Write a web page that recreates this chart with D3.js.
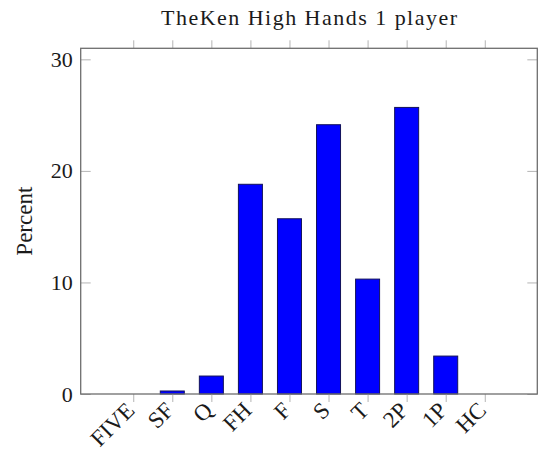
<!DOCTYPE html>
<html>
<head>
<meta charset="utf-8">
<script src="https://cdn.jsdelivr.net/npm/d3@7"></script>
<style>
  html, body { margin: 0; padding: 0; background: #fff; }
  svg { display: block; }
  text { font-family: "Liberation Serif", "DejaVu Serif", serif; fill: #1a1a1a; }
</style>
</head>
<body>
<svg id="chart" width="546" height="453"></svg>
<script>
const categories = ["FIVE", "SF", "Q", "FH", "F", "S", "T", "2P", "1P", "HC"];
const percentValues = [0.0, 0.27, 1.61, 18.8, 15.71, 24.14, 10.3, 25.69, 3.4, 0.0];
const yTickValues = [0, 10, 20, 30];
const chartTitle = "TheKen High Hands 1 player";
const yAxisLabel = "Percent";

const svg = d3.select("#chart");
const frame = { left: 80.7, right: 537.3, top: 48.3, bottom: 394 };

const x = d3.scaleLinear()
  .domain([-1.345, categories.length - 1 + 1.345])
  .range([frame.left, frame.right]);
const y = d3.scaleLinear()
  .domain([0, 30.99])
  .range([frame.bottom, frame.top]);

const barWidth = 24;

// bars
svg.append("g")
  .selectAll("rect")
  .data(percentValues)
  .join("rect")
  .attr("x", (d, i) => x(i) - barWidth / 2)
  .attr("y", d => y(d))
  .attr("width", barWidth)
  .attr("height", d => y(0) - y(d))
  .attr("fill", "#0000ff")
  .attr("stroke", "#12125a")
  .attr("stroke-width", 1);

const tickColor = "#b4b4b4";
const idx = categories.map((c, i) => i);

// bottom x axis (outer ticks)
const xAxisBottom = d3.axisBottom(x).tickValues(idx).tickSize(8).tickFormat("");
const gxb = svg.append("g").attr("transform", `translate(0,${frame.bottom})`).call(xAxisBottom);
gxb.select(".domain").remove();
gxb.selectAll(".tick line").attr("stroke", tickColor).attr("stroke-width", 1);

// top x axis (outer ticks)
const xAxisTop = d3.axisTop(x).tickValues(idx).tickSize(8).tickFormat("");
const gxt = svg.append("g").attr("transform", `translate(0,${frame.top})`).call(xAxisTop);
gxt.select(".domain").remove();
gxt.selectAll(".tick line").attr("stroke", tickColor).attr("stroke-width", 1);

// x tick labels (rotated)
svg.append("g")
  .selectAll("text")
  .data(categories)
  .join("text")
  .attr("transform", (d, i) => `translate(${x(i) - 9},${frame.bottom + 6}) rotate(-45)`)
  .attr("text-anchor", "end")
  .attr("dy", "0.72em")
  .style("font-size", "23px")
  .text(d => d);

// left y axis (inner ticks)
const yAxisLeft = d3.axisLeft(y).tickValues(yTickValues).tickSize(-10).tickPadding(8).tickFormat(d3.format("d"));
const gyl = svg.append("g").attr("transform", `translate(${frame.left},0)`).call(yAxisLeft);
gyl.select(".domain").remove();
gyl.selectAll(".tick line").attr("stroke", tickColor).attr("stroke-width", 1);
gyl.selectAll(".tick text")
  .style("font-size", "22px")
  .style("font-family", "\"Liberation Serif\", serif")
  .attr("fill", "#1a1a1a");

// right y axis (inner ticks)
const yAxisRight = d3.axisRight(y).tickValues(yTickValues).tickSize(-10).tickFormat("");
const gyr = svg.append("g").attr("transform", `translate(${frame.right},0)`).call(yAxisRight);
gyr.select(".domain").remove();
gyr.selectAll(".tick line").attr("stroke", tickColor).attr("stroke-width", 1);

// frame
svg.append("rect")
  .attr("x", frame.left).attr("y", frame.top)
  .attr("width", frame.right - frame.left)
  .attr("height", frame.bottom - frame.top)
  .attr("fill", "none")
  .attr("stroke", "#6e6e6e")
  .attr("stroke-width", 1.3);

// title
svg.append("text")
  .attr("x", (frame.left + frame.right) / 2)
  .attr("y", 25)
  .attr("text-anchor", "middle")
  .attr("textLength", 296)
  .attr("lengthAdjust", "spacing")
  .style("font-size", "22px")
  .text(chartTitle);

// y label
svg.append("text")
  .attr("transform", `translate(32,${(frame.top + frame.bottom) / 2}) rotate(-90)`)
  .attr("text-anchor", "middle")
  .style("font-size", "23px")
  .text(yAxisLabel);
</script>
</body>
</html>
